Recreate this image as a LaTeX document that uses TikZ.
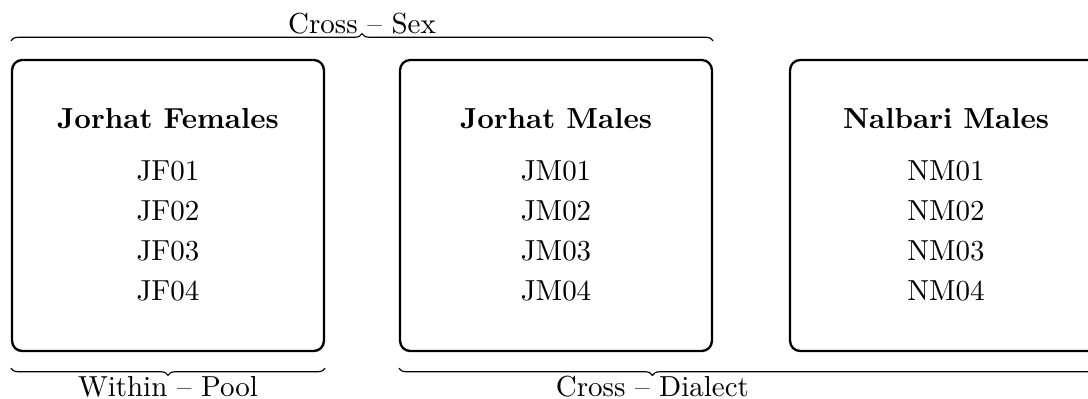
\documentclass[tikz,border=0pt]{standalone}
\usetikzlibrary{decorations.pathreplacing}
\tikzset{
 panel/.style={draw,line width=0.8pt,rounded corners=3.5pt,minimum width=107.6pt,minimum height=100.4pt,inner sep=0pt},
 head/.style={font=\bfseries,anchor=base},
 item/.style={anchor=base},
 grp/.style={decorate,decoration={brace,amplitude=2.5pt}},
}
\begin{document}
\begin{tikzpicture}[x=0.345pt,y=-0.345pt]
 \useasboundingbox (0,0) rectangle (1088,398);
 \clip (0,0) rectangle (1088,398);
 % speaker pools
 \node[panel] (jf) at (168,205.5) {};
 \node[panel] (jm) at (556,205.5) {};
 \node[panel] (nm) at (946,205.5) {};
 \node[head] (jfhead) at (168,128) {Jorhat Females};
 \node[head] (jmhead) at (556,128) {Jorhat Males};
 \node[head] (nmhead) at (946,128) {Nalbari Males};
 \foreach \i/\y in {1/180,2/220,3/260,4/300} {
  \node[item] (jf\i) at (168,\y) {JF0\i};
  \node[item] (jm\i) at (556,\y) {JM0\i};
  \node[item] (nm\i) at (946,\y) {NM0\i};
 }
 % groupings
 \draw[grp] ([yshift=6.2pt]jf.north west) -- ([yshift=6.2pt]jm.north east) node[midway,anchor=base,yshift=2.4pt] (sexlbl) {Cross -- Sex};
 \draw[grp,decoration={mirror}] ([yshift=-5.5pt]jf.south west) -- ([yshift=-5.5pt]jf.south east) node[midway,anchor=base,yshift=-9.7pt] (poollbl) {Within -- Pool};
 \draw[grp,decoration={mirror,aspect=0.36}] ([yshift=-5.5pt]jm.south west) -- ([yshift=-5.5pt]nm.south east) node[pos=0.36,anchor=base,yshift=-9.7pt] (dialectlbl) {Cross -- Dialect};
\end{tikzpicture}
\end{document}
